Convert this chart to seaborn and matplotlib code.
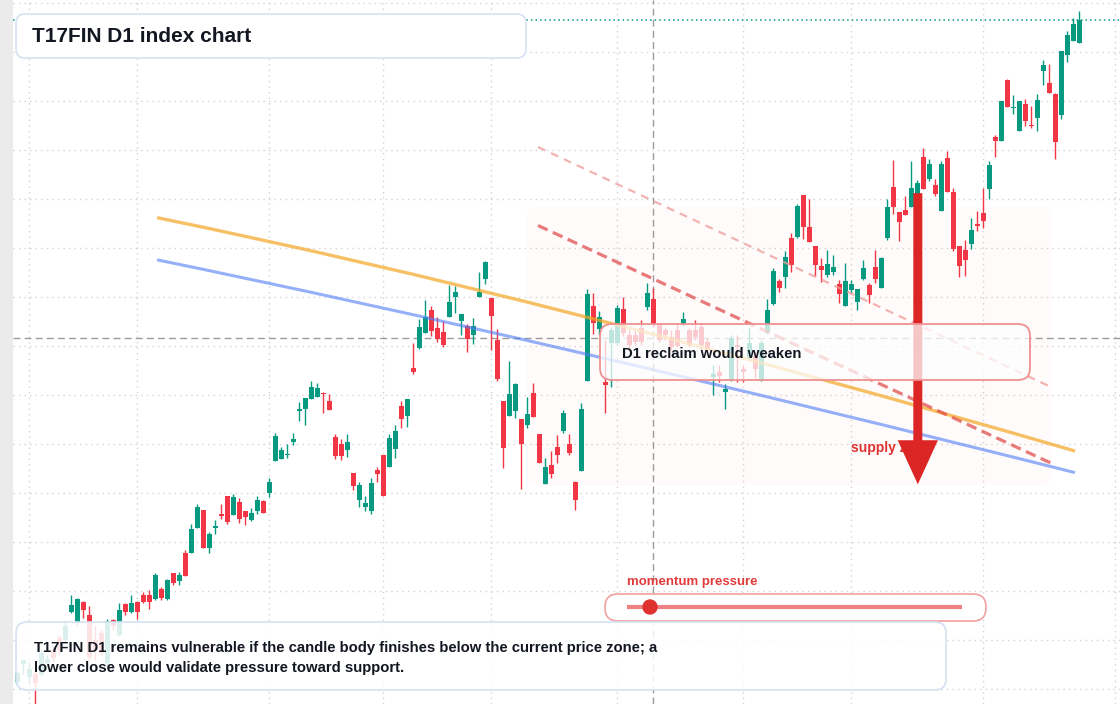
import numpy as np
import pandas as pd
import seaborn as sns
import matplotlib.pyplot as plt
from matplotlib.colors import to_rgba
from matplotlib.lines import Line2D
from matplotlib.path import Path
from matplotlib.patches import FancyBboxPatch, FancyArrow, Circle, PathPatch
from matplotlib.transforms import IdentityTransform

# T17FIN daily candles, oldest first
opens = [2007, 2026, 2013, 2016, 2016, 2027, 2040, 2052, 2050, 2079, 2068, 2089,
         2076, 2050, 2057, 2027, 2071, 2055, 2087, 2079, 2089, 2096, 2096, 2092,
         2102, 2092, 2119, 2110, 2139, 2139, 2165, 2183, 2144, 2165, 2179, 2197,
         2178, 2191, 2182, 2173, 2182, 2192, 2200, 2233, 2235, 2239, 2252, 2284,
         2286, 2296, 2298, 2302, 2294, 2257, 2250, 2244, 2221, 2193, 2186, 2182,
         2224, 2239, 2227, 2245, 2289, 2279, 2328, 2348, 2363, 2387, 2368, 2364,
         2380, 2400, 2376, 2371, 2361, 2400, 2418, 2399, 2356, 2294, 2279, 2284,
         2276, 2270, 2302, 2260, 2209, 2229, 2247, 2263, 2250, 2211, 2223, 2314,
         2391, 2367, 2313, 2353, 2353, 2388, 2361, 2361, 2368, 2390, 2398, 2372,
         2366, 2359, 2366, 2373, 2366, 2366, 2369, 2354, 2318, 2324, 2303, 2315,
         2351, 2327, 2338, 2340, 2315, 2363, 2393, 2416, 2420, 2460, 2461, 2504,
         2471, 2452, 2432, 2423, 2426, 2413, 2391, 2407, 2395, 2418, 2412, 2431,
         2409, 2460, 2512, 2487, 2489, 2492, 2499, 2543, 2520, 2514, 2488, 2542,
         2507, 2452, 2448, 2454, 2474, 2486, 2510, 2563, 2559, 2621, 2593, 2569,
         2597, 2576, 2583, 2631, 2618, 2607, 2586, 2647, 2661, 2659]
closes = [2017, 2030, 2021, 2006, 2037, 2031, 2032, 2040, 2065, 2086, 2092, 2081,
          2033, 2040, 2037, 2070, 2065, 2081, 2079, 2088, 2079, 2089, 2089, 2117,
          2093, 2111, 2108, 2117, 2116, 2163, 2186, 2144, 2158, 2167, 2177, 2171,
          2196, 2174, 2176, 2180, 2193, 2180, 2211, 2258, 2244, 2240, 2255, 2286,
          2297, 2308, 2307, 2301, 2285, 2238, 2238, 2252, 2207, 2208, 2190, 2210,
          2220, 2197, 2256, 2263, 2276, 2296, 2324, 2370, 2380, 2365, 2357, 2351,
          2395, 2405, 2383, 2357, 2371, 2405, 2436, 2381, 2316, 2246, 2301, 2311,
          2250, 2281, 2278, 2231, 2227, 2220, 2239, 2282, 2241, 2193, 2286, 2403,
          2374, 2380, 2310, 2366, 2389, 2363, 2351, 2354, 2354, 2404, 2372, 2356,
          2361, 2349, 2350, 2378, 2351, 2359, 2351, 2346, 2322, 2320, 2306, 2358,
          2349, 2324, 2353, 2327, 2353, 2387, 2427, 2409, 2441, 2433, 2493, 2471,
          2456, 2433, 2428, 2434, 2431, 2403, 2416, 2413, 2408, 2430, 2402, 2418,
          2440, 2492, 2492, 2477, 2484, 2511, 2516, 2510, 2536, 2505, 2536, 2507,
          2449, 2432, 2438, 2468, 2473, 2478, 2535, 2559, 2600, 2594, 2594, 2600,
          2580, 2574, 2601, 2637, 2608, 2558, 2651, 2667, 2679, 2683]
highs = [2019, 2031, 2028, 2021, 2040, 2035, 2045, 2055, 2070, 2096, 2093, 2090,
         2085, 2065, 2062, 2072, 2072, 2088, 2088, 2096, 2090, 2099, 2101, 2119,
         2104, 2112, 2119, 2120, 2142, 2169, 2189, 2183, 2160, 2173, 2189, 2197,
         2199, 2195, 2182, 2185, 2197, 2193, 2215, 2261, 2247, 2250, 2261, 2293,
         2297, 2314, 2312, 2303, 2301, 2260, 2255, 2260, 2221, 2211, 2197, 2216,
         2227, 2239, 2260, 2270, 2294, 2296, 2353, 2378, 2397, 2391, 2380, 2376,
         2412, 2411, 2383, 2373, 2379, 2426, 2437, 2399, 2367, 2294, 2335, 2312,
         2276, 2298, 2312, 2260, 2236, 2243, 2259, 2285, 2260, 2212, 2292, 2408,
         2404, 2386, 2356, 2370, 2392, 2400, 2366, 2366, 2377, 2414, 2409, 2374,
         2370, 2366, 2373, 2385, 2368, 2377, 2374, 2358, 2331, 2331, 2311, 2361,
         2361, 2331, 2368, 2344, 2356, 2398, 2430, 2418, 2447, 2465, 2495, 2504,
         2500, 2452, 2440, 2448, 2443, 2417, 2435, 2417, 2408, 2438, 2414, 2448,
         2441, 2500, 2540, 2487, 2503, 2539, 2519, 2552, 2541, 2520, 2539, 2549,
         2511, 2452, 2458, 2481, 2488, 2511, 2539, 2565, 2600, 2622, 2606, 2600,
         2602, 2595, 2607, 2642, 2638, 2608, 2651, 2671, 2685, 2692]
lows = [2005, 2016, 2006, 1983, 2014, 2023, 2028, 2035, 2048, 2078, 2065, 2073,
        2030, 2030, 2035, 2024, 2060, 2054, 2076, 2078, 2072, 2088, 2082, 2091,
        2091, 2091, 2106, 2106, 2116, 2139, 2165, 2144, 2139, 2158, 2174, 2169,
        2178, 2170, 2168, 2172, 2179, 2180, 2196, 2233, 2235, 2236, 2249, 2274,
        2270, 2296, 2298, 2282, 2285, 2235, 2234, 2237, 2203, 2186, 2182, 2179,
        2211, 2197, 2227, 2236, 2266, 2268, 2322, 2347, 2363, 2360, 2354, 2349,
        2380, 2384, 2361, 2344, 2352, 2400, 2413, 2346, 2314, 2226, 2279, 2277,
        2204, 2266, 2278, 2231, 2209, 2215, 2231, 2261, 2239, 2183, 2223, 2314,
        2362, 2361, 2282, 2308, 2351, 2360, 2346, 2351, 2351, 2387, 2370, 2354,
        2356, 2346, 2349, 2371, 2349, 2356, 2346, 2341, 2300, 2313, 2286, 2314,
        2313, 2313, 2336, 2317, 2314, 2362, 2392, 2405, 2409, 2426, 2460, 2459,
        2456, 2422, 2415, 2420, 2423, 2394, 2391, 2404, 2387, 2417, 2394, 2414,
        2409, 2458, 2485, 2457, 2484, 2492, 2494, 2510, 2518, 2503, 2488, 2507,
        2447, 2420, 2422, 2449, 2467, 2470, 2500, 2543, 2559, 2594, 2587, 2569,
        2574, 2572, 2569, 2616, 2608, 2541, 2582, 2640, 2661, 2659]

# first bar of each month (vertical grid)
month_starts = [2, 20, 42, 61, 79, 100, 121, 139, 161, 183]

# drawn levels (bar index, price); curved trends as start / bend / end
upper_trend = [(23.3, 2481), (88.3, 2400), (176.3, 2243)]
lower_trend = [(23.3, 2438), (88.3, 2356.5), (176.3, 2221)]
fast_res_x = [86.8, 172.9]
fast_res_y = [2473, 2229]
slow_res_x = [86.8, 172.4]
slow_res_y = [2553, 2308]

zone_start, zone_end = 84.9, 172.4
zone_low, zone_high = 2208, 2492
cross_bar, cross_level = 106, 2358
arrow_bar, arrow_from, arrow_to = 150.1, 2506, 2209

GREEN = '#089981'
RED = '#f23645'
INK = '#131722'

sns.set_theme(style='white')
plt.rcParams['font.family'] = ['Liberation Sans', 'DejaVu Sans']

df = pd.DataFrame({'open': opens, 'high': highs, 'low': lows, 'close': closes})
df['bar'] = np.arange(len(df))
df['color'] = np.where(df['close'] >= df['open'], GREEN, RED)
df['body_lo'] = df[['open', 'close']].min(axis=1)
df['body_h'] = (df['close'] - df['open']).abs().clip(lower=1.3)

fig = plt.figure(figsize=(11.2, 7.04), dpi=100, facecolor='#ebebeb')
ax = fig.add_axes([13 / 1120, 0, 1107 / 1120, 1])
ax.set_facecolor('white')
ax.set_xlim(-0.72, 183.8)
ax.set_ylim(1985, 2703)
ax.set_xticks(month_starts)
ax.set_yticks(np.arange(2000, 2701, 50))
ax.tick_params(length=0, labelbottom=False, labelleft=False)
ax.grid(True, color='#d2d2d2', linestyle=(0, (1, 3)), linewidth=1)
ax.set_axisbelow(True)
for s in ax.spines.values():
    s.set_visible(False)

# supply zone shading
ax.add_patch(FancyBboxPatch((zone_start, zone_low), zone_end - zone_start, zone_high - zone_low,
                            boxstyle='round,pad=0,rounding_size=1.7', mutation_aspect=6.1,
                            fc='#f3a27c', alpha=0.035, ec='none', zorder=1))

# last price + crosshair
ax.axhline(closes[-1], color=GREEN, linestyle=(0, (1, 2)), lw=1.1, zorder=2)
ax.axvline(cross_bar, color='#9c9c9c', linestyle=(0, (5, 3)), lw=1, zorder=2)
ax.axhline(cross_level, color='#9c9c9c', linestyle=(0, (5, 3)), lw=1, zorder=2)

# candles
ax.vlines(df['bar'], df['low'], df['high'], colors=df['color'], lw=1, zorder=3)
ax.bar(df['bar'], df['body_h'], bottom=df['body_lo'], width=0.78,
       color=df['color'], linewidth=0, zorder=4)

# trend curves
for pts, col, alpha, lw in [(upper_trend, '#f5a623', 0.7, 2.4),
                            (lower_trend, '#4f7cf6', 0.6, 2.2)]:
    path = Path(pts, [Path.MOVETO, Path.CURVE3, Path.CURVE3])
    ax.add_patch(PathPatch(path, fill=False, ec=col, alpha=alpha, lw=lw,
                           capstyle='butt', zorder=5))

sns.lineplot(x=fast_res_x, y=fast_res_y, ax=ax, color='#e04848', alpha=0.72, lw=2.3,
             linestyle=(0, (3.3, 1.8)), sort=False, estimator=None, zorder=5)
sns.lineplot(x=slow_res_x, y=slow_res_y, ax=ax, color='#ef9a9a', alpha=0.75, lw=1.6,
             linestyle=(0, (3.6, 2.8)), sort=False, estimator=None, zorder=5)

ax.text(139, 2246, 'supply zone', color='#e03131', fontsize=10, fontweight='bold',
        va='center', ha='left', zorder=7)
ax.add_patch(FancyArrow(arrow_bar, arrow_from, 0, arrow_to - arrow_from, width=1.5,
                        head_width=6.7, head_length=45, length_includes_head=True,
                        color='#dc2626', lw=0, zorder=8))

# overlay cards, in pixels from the top-left corner
T = IdentityTransform()
H = 704


def card(x0, y0, x1, y1, r, fc, ec, lw=1.2, z=10):
    fig.add_artist(FancyBboxPatch((x0, H - y1), x1 - x0, y1 - y0,
                                  boxstyle=f'round,pad=0,rounding_size={r}',
                                  transform=T, fc=fc, ec=ec, lw=lw, zorder=z))


card(16, 14, 526, 58, 9, 'white', '#d5e1f2')
fig.text(32, H - 37, 'T17FIN D1 index chart', transform=T, fontsize=15,
         fontweight='bold', color=INK, va='center', zorder=11)

card(600, 324, 1030, 380, 12, to_rgba('white', 0.74), '#ef9090', lw=1.3)
fig.text(622, H - 354, 'D1 reclaim would weaken', transform=T, fontsize=10.75,
         fontweight='bold', color=INK, va='center', zorder=11)

fig.text(627, H - 582, 'momentum pressure', transform=T, fontsize=9.5,
         fontweight='bold', color='#e03a3a', va='center', zorder=11)
card(605, 594, 986, 621, 13, 'white', '#f2a0a0')
fig.add_artist(Line2D([627, 962], [H - 607, H - 607], transform=T, color='#ee8282',
                      lw=3, solid_capstyle='butt', zorder=11))
fig.add_artist(Circle((650, H - 607), 7, transform=T, color='#e03131', zorder=12))

card(16, 622, 946, 690, 11, to_rgba('white', 0.86), '#d5e1f2')
fig.text(34, H - 648, 'T17FIN D1 remains vulnerable if the candle body finishes below '
         'the current price zone; a', transform=T, fontsize=10.75, fontweight='bold',
         color=INK, va='center', zorder=11)
fig.text(34, H - 668, 'lower close would validate pressure toward support.', transform=T,
         fontsize=10.75, fontweight='bold', color=INK, va='center', zorder=11)

fig.savefig('out.png', dpi=100)
